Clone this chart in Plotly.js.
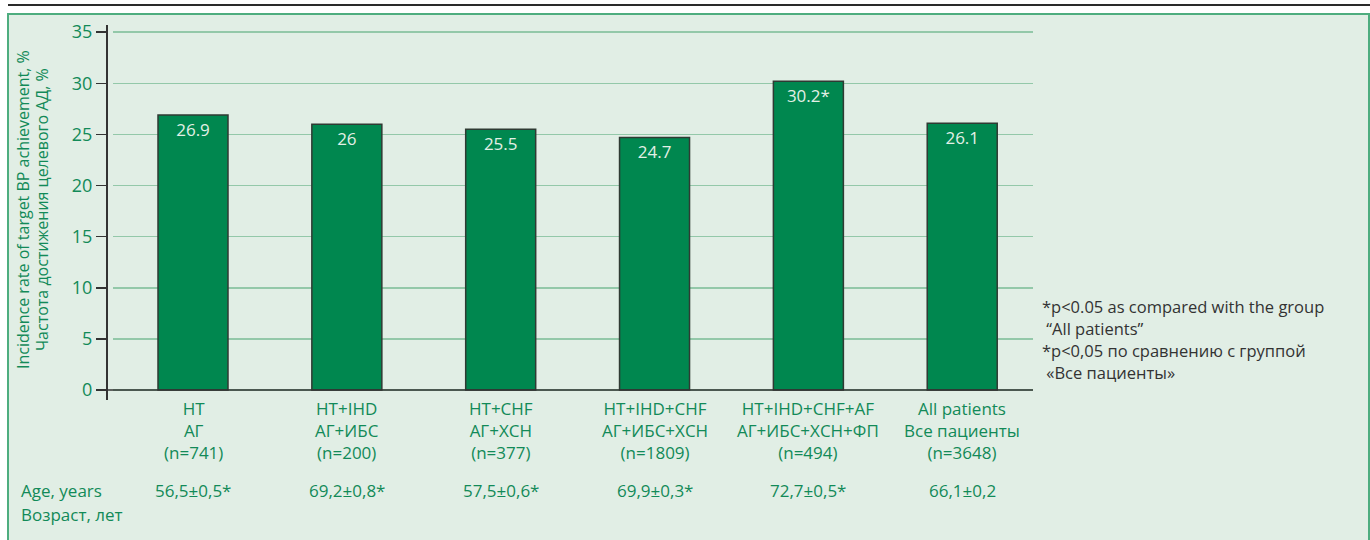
<!DOCTYPE html>
<html>
<head>
<meta charset="utf-8">
<script src="https://cdn.plot.ly/plotly-3.0.1.min.js"></script>
<style>html,body{margin:0;padding:0;background:#fff;}#chart{width:1370px;height:540px;}</style>
</head>
<body>
<div id="chart"></div>
<script>
const groupsEn = ["HT", "HT+IHD", "HT+CHF", "HT+IHD+CHF", "HT+IHD+CHF+AF", "All patients"];
const groupsRu = ["АГ", "АГ+ИБС", "АГ+ХСН", "АГ+ИБС+ХСН", "АГ+ИБС+ХСН+ФП", "Все пациенты"];
const groupN = ["n=741", "n=200", "n=377", "n=1809", "n=494", "n=3648"];
const rates = [26.9, 26, 25.5, 24.7, 30.2, 26.1];
const rateLabels = ["26.9", "26", "25.5", "24.7", "30.2*", "26.1"];
const ages = ["56,5±0,5*", "69,2±0,8*", "57,5±0,6*", "69,9±0,3*", "72,7±0,5*", "66,1±0,2"];
const yTicks = [0, 5, 10, 15, 20, 25, 30, 35];
const ageLabel = ["Age, years", "Возраст, лет"];
const yTitle = ["Incidence rate of target BP achievement, %", "Частота достижения целевого АД, %"];
const footnote = ["*p&lt;0.05 as compared with the group", " “All patients”", "*p&lt;0,05 по сравнению с группой", " «Все пациенты»"];

const FONT = "'Open Sans', 'Noto Sans', sans-serif";
const GREEN = "#128a58";
const idx = groupsEn.map((_, i) => i);

const trace = {
  type: "bar",
  x: idx,
  y: rates,
  width: 0.455,
  text: rateLabels,
  textposition: "inside",
  insidetextanchor: "end",
  textangle: 0,
  textfont: {family: FONT, size: 17, color: "#e3f0e6"},
  marker: {color: "#00874f", line: {color: "#2f3a33", width: 1.5}},
  hoverinfo: "skip",
  cliponaxis: false
};

const plotTop = 25, plotH = 375, plotL = 106, plotW = 927;
function py(pix) { return 1 - (pix - plotTop) / plotH; }
function px(pix) { return (pix - plotL) / plotW; }

const annotations = [];
idx.forEach(i => {
  annotations.push({
    x: i, xref: "x", y: py(395), yref: "paper", showarrow: false,
    text: groupsEn[i] + "<br>" + groupsRu[i] + "<br>(" + groupN[i] + ")",
    font: {family: FONT, size: 17, color: GREEN}, align: "center",
    xanchor: "center", yanchor: "top"
  });
  annotations.push({
    x: i, xref: "x", y: py(491), yref: "paper", showarrow: false,
    text: ages[i], font: {family: FONT, size: 17, color: GREEN},
    xanchor: "center", yanchor: "middle"
  });
});
ageLabel.forEach((t, k) => {
  annotations.push({
    xref: "paper", yref: "paper", x: px(19), y: py(491 + 23 * k), xanchor: "left", yanchor: "middle",
    showarrow: false, align: "left", text: t,
    font: {family: FONT, size: 17, color: GREEN}
  });
});
const footY = [306, 328, 350, 372];
footnote.forEach((t, k) => {
  annotations.push({
    xref: "paper", yref: "paper", x: px(1040), y: py(footY[k]), xanchor: "left", yanchor: "middle",
    showarrow: false, align: "left", text: t,
    font: {family: FONT, size: 16.5, color: "#333"}
  });
});
const titleX = [23, 42];
yTitle.forEach((t, k) => {
  annotations.push({
    xref: "paper", yref: "paper", x: px(titleX[k]), y: py(210), xanchor: "center", yanchor: "middle",
    showarrow: false, textangle: -90, text: t,
    font: {family: FONT, size: 16, color: GREEN}
  });
});

const layout = {
  width: 1370, height: 540,
  margin: {l: 106, r: 337, t: 25, b: 140},
  paper_bgcolor: "#ffffff",
  plot_bgcolor: "rgba(0,0,0,0)",
  showlegend: false,
  font: {family: FONT, color: GREEN},
  xaxis: {
    range: [-0.52, 5.46],
    domain: [7 / 927, 1],
    showgrid: false, zeroline: false, showline: false,
    showticklabels: false, ticks: "", fixedrange: true
  },
  yaxis: {
    range: [-0.98, 35.7],
    anchor: "free", position: 0,
    tickvals: yTicks,
    ticks: "outside", ticklen: 10, tickwidth: 1.5, tickcolor: "#333",
    showline: true, linecolor: "#333", linewidth: 1.5,
    showgrid: true, gridcolor: "#93c8a9", gridwidth: 1.5,
    zeroline: false,
    tickfont: {family: FONT, size: 18, color: GREEN},
    fixedrange: true
  },
  shapes: [
    {type: "rect", xref: "paper", yref: "paper", layer: "below",
     x0: px(8), x1: px(1369), y0: py(545), y1: py(14),
     fillcolor: "#e1eee5", line: {color: "#4ead7f", width: 2}},
    {type: "line", xref: "paper", yref: "paper",
     x0: px(8), x1: px(1372), y0: py(5), y1: py(5),
     line: {color: "#2a2a2a", width: 2}},
    {type: "line", xref: "paper", yref: "y", x0: 0, x1: 1, y0: 0, y1: 0,
     line: {color: "#333", width: 1.5}, layer: "above"}
  ],
  annotations: annotations
};

Plotly.newPlot("chart", [trace], layout, {displayModeBar: false, staticPlot: true});
</script>
</body>
</html>
